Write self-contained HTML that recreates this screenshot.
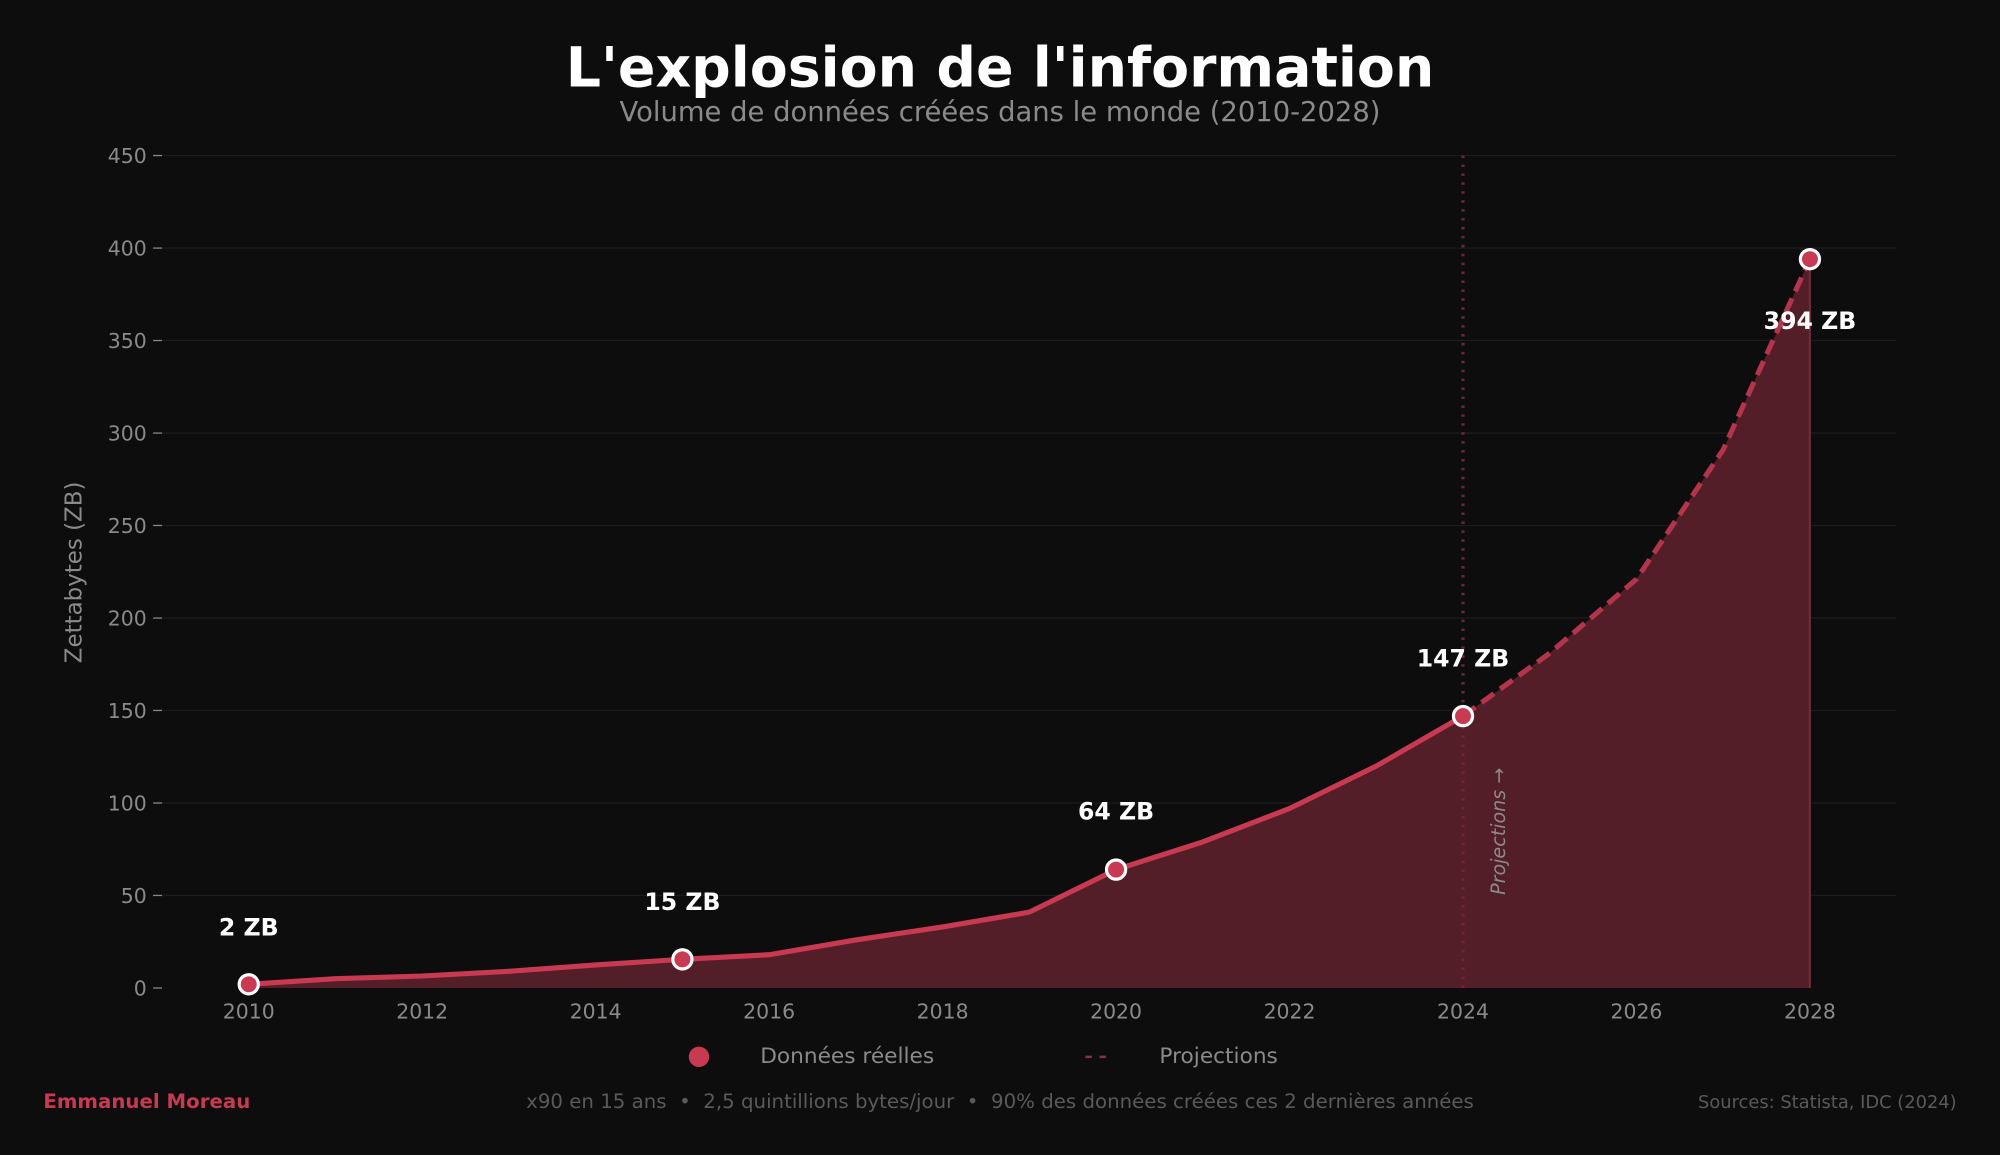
<!DOCTYPE html>
<html><head><meta charset="utf-8"><style>
html,body{margin:0;padding:0;background:#0d0d0d;}
svg{display:block;}
text{font-family:"DejaVu Sans","Liberation Sans",sans-serif;}
</style></head><body>
<svg width="2000" height="1155" viewBox="0 0 1568 906" preserveAspectRatio="none" xmlns="http://www.w3.org/2000/svg">
<rect width="1568" height="906" fill="#0d0d0d"/>
<text x="784" y="68" text-anchor="middle" font-size="43.4" font-weight="bold" fill="#ffffff">L'explosion de l'information</text>
<text x="784" y="95" text-anchor="middle" font-size="21.5" fill="#8a8a8a">Volume de données créées dans le monde (2010-2028)</text>
<g stroke="#1c1c1c" stroke-width="1">
<line x1="127" x2="1487" y1="122" y2="122"/><line x1="127" x2="1487" y1="194.6" y2="194.6"/><line x1="127" x2="1487" y1="267.1" y2="267.1"/><line x1="127" x2="1487" y1="339.7" y2="339.7"/><line x1="127" x2="1487" y1="412.2" y2="412.2"/><line x1="127" x2="1487" y1="484.8" y2="484.8"/><line x1="127" x2="1487" y1="557.3" y2="557.3"/><line x1="127" x2="1487" y1="629.9" y2="629.9"/><line x1="127" x2="1487" y1="702.4" y2="702.4"/>
</g>
<g font-size="16" fill="#8a8a8a" text-anchor="end">
<text x="115" y="128">450</text><text x="115" y="200.6">400</text><text x="115" y="273.1">350</text><text x="115" y="345.7">300</text><text x="115" y="418.2">250</text><text x="115" y="490.8">200</text><text x="115" y="563.3">150</text><text x="115" y="635.9">100</text><text x="115" y="708.4">50</text><text x="115" y="781">0</text>
</g>
<g stroke="#8a8a8a" stroke-width="1">
<line x1="120" x2="127" y1="122" y2="122"/><line x1="120" x2="127" y1="194.6" y2="194.6"/><line x1="120" x2="127" y1="267.1" y2="267.1"/><line x1="120" x2="127" y1="339.7" y2="339.7"/><line x1="120" x2="127" y1="412.2" y2="412.2"/><line x1="120" x2="127" y1="484.8" y2="484.8"/><line x1="120" x2="127" y1="557.3" y2="557.3"/><line x1="120" x2="127" y1="629.9" y2="629.9"/><line x1="120" x2="127" y1="702.4" y2="702.4"/><line x1="120" x2="127" y1="775" y2="775"/>
</g>
<g font-size="16" fill="#8a8a8a" text-anchor="middle">
<text x="195" y="799">2010</text><text x="331" y="799">2012</text><text x="467" y="799">2014</text><text x="603" y="799">2016</text><text x="739" y="799">2018</text><text x="875" y="799">2020</text><text x="1011" y="799">2022</text><text x="1147" y="799">2024</text><text x="1283" y="799">2026</text><text x="1419" y="799">2028</text>
</g>
<text transform="translate(64,449) rotate(-90)" text-anchor="middle" font-size="18" fill="#8a8a8a">Zettabytes (ZB)</text>
<polygon fill="#541e29" points="195,772.1 263,767.7 331,765.6 399,761.9 467,756.9 535,752.5 603,748.9 671,737.3 739,727.1 807,715.5 875,682.1 943,660.4 1011,634.2 1079,600.9 1147,561.7 1215,512.3 1283,454.3 1351,352.7 1419,203.3 1419,775 195,775"/>
<line x1="1419" y1="203" x2="1419" y2="775" stroke="#8a3040" stroke-width="1.2"/>
<line x1="1147" y1="122" x2="1147" y2="775" stroke="#6e2633" stroke-width="2.5" stroke-dasharray="2,5"/>
<polyline fill="none" stroke="#c83a52" stroke-width="4" stroke-linejoin="round" points="195,772.1 263,767.7 331,765.6 399,761.9 467,756.9 535,752.5 603,748.9 671,737.3 739,727.1 807,715.5 875,682.1 943,660.4 1011,634.2 1079,600.9 1147,561.7"/>
<polyline fill="none" stroke="#b3354b" stroke-width="4" stroke-dasharray="12,6" points="1147,561.7 1215,512.3 1283,454.3 1351,352.7 1419,203.3"/>
<text transform="translate(1180,702) rotate(-90)" font-size="15" font-style="italic" fill="#8a8a8a">Projections →</text>
<g fill="#c83a52" stroke="#ffffff" stroke-width="2.5">
<circle cx="195" cy="772.1" r="7.5"/><circle cx="535" cy="752.5" r="7.5"/><circle cx="875" cy="682.1" r="7.5"/><circle cx="1147" cy="561.7" r="7.5"/><circle cx="1419" cy="203.3" r="7.5"/>
</g>
<g font-size="18.5" font-weight="bold" fill="#ffffff" text-anchor="middle">
<text x="195" y="734">2 ZB</text><text x="535" y="714">15 ZB</text><text x="875" y="643">64 ZB</text><text x="1147" y="523">147 ZB</text><text x="1419" y="258">394 ZB</text>
</g>
<circle cx="548" cy="829" r="8" fill="#c83a52"/>
<text x="596" y="834" font-size="17" fill="#8a8a8a">Données réelles</text>
<line x1="851" x2="873" y1="829" y2="829" stroke="#8a3040" stroke-width="2" stroke-dasharray="5,6"/>
<text x="909" y="834" font-size="17" fill="#8a8a8a">Projections</text>
<text x="34" y="869" font-size="15.5" font-weight="bold" fill="#c83a52">Emmanuel Moreau</text>
<text x="784" y="869" text-anchor="middle" font-size="15.5" fill="#5a5a5a" xml:space="preserve">x90 en 15 ans  •  2,5 quintillions bytes/jour  •  90% des données créées ces 2 dernières années</text>
<text x="1534" y="869" text-anchor="end" font-size="14" fill="#5a5a5a">Sources: Statista, IDC (2024)</text>
</svg>
</body></html>
